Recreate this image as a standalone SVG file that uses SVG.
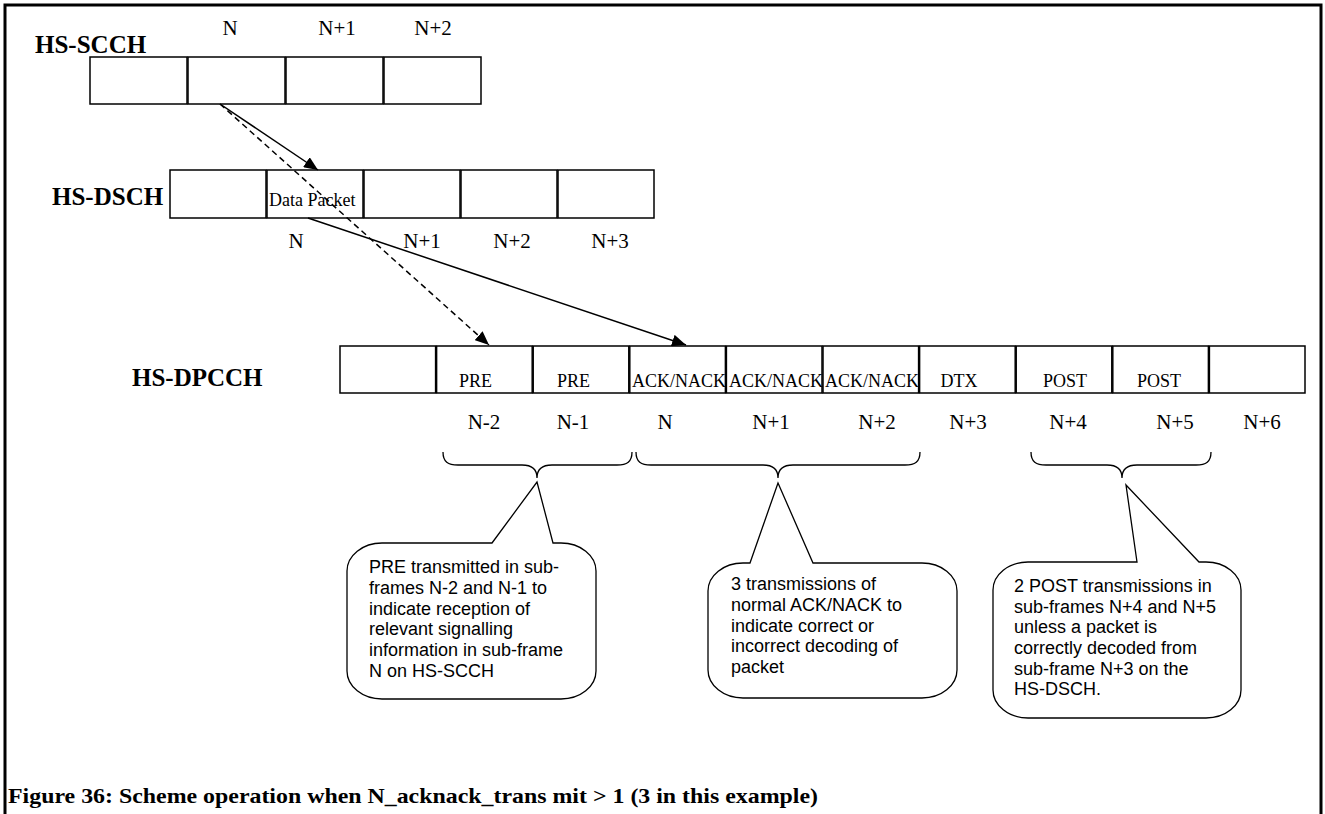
<svg xmlns="http://www.w3.org/2000/svg" width="1325" height="814" viewBox="0 0 1325 814">
<style>
.bx{fill:#fff;stroke:#000;stroke-width:1.5}
.ch{font-family:"Liberation Serif",serif;font-weight:bold;font-size:25px;fill:#000}
.lb{font-family:"Liberation Serif",serif;font-size:21px;fill:#000}
.in{font-family:"Liberation Serif",serif;font-size:18px;fill:#000}
.co{font-family:"Liberation Sans",Arial,sans-serif;font-size:18px;fill:#000}
.cl{fill:#fff;stroke:#000;stroke-width:1.3}
.br{fill:none;stroke:#000;stroke-width:1.3}
.cn{fill:none;stroke:#000;stroke-width:1.5}
</style>
<defs>
<marker id="ah" markerUnits="userSpaceOnUse" markerWidth="16" markerHeight="12" refX="14" refY="6" orient="auto">
<path d="M0,0 L14,6 L0,12 Z" fill="#000"/>
</marker>
</defs>
<rect width="1325" height="814" fill="#fff"/>
<path d="M5,814 V5 H1321 V814" fill="none" stroke="#000" stroke-width="3"/>

<g id="hs-scch">
<text class="ch" x="35" y="53">HS-SCCH</text>
<rect class="bx" x="90" y="57" width="97" height="47"/>
<rect class="bx" x="188" y="57" width="97" height="47"/>
<rect class="bx" x="286" y="57" width="97" height="47"/>
<rect class="bx" x="384" y="57" width="97" height="47"/>
<text class="lb" x="230" y="35" text-anchor="middle">N</text>
<text class="lb" x="337" y="35" text-anchor="middle">N+1</text>
<text class="lb" x="433" y="35" text-anchor="middle">N+2</text>
</g>

<g id="hs-dsch">
<text class="ch" x="52" y="205">HS-DSCH</text>
<rect class="bx" x="170" y="170" width="96" height="48"/>
<rect class="bx" x="267" y="170" width="96" height="48"/>
<rect class="bx" x="364" y="170" width="96" height="48"/>
<rect class="bx" x="461" y="170" width="96" height="48"/>
<rect class="bx" x="558" y="170" width="96" height="48"/>
<text class="in" x="269" y="206">Data Packet</text>
<text class="lb" x="296" y="248" text-anchor="middle">N</text>
<text class="lb" x="422" y="248" text-anchor="middle">N+1</text>
<text class="lb" x="512" y="248" text-anchor="middle">N+2</text>
<text class="lb" x="610" y="248" text-anchor="middle">N+3</text>
</g>

<g id="hs-dpcch">
<text class="ch" x="132" y="386">HS-DPCCH</text>
<rect class="bx" x="340" y="346" width="95.6" height="47"/>
<rect class="bx" x="436.6" y="346" width="95.6" height="47"/>
<rect class="bx" x="533.2" y="346" width="95.6" height="47"/>
<rect class="bx" x="629.8" y="346" width="95.6" height="47"/>
<rect class="bx" x="726.4" y="346" width="95.6" height="47"/>
<rect class="bx" x="823" y="346" width="95.6" height="47"/>
<rect class="bx" x="919.6" y="346" width="95.6" height="47"/>
<rect class="bx" x="1016.2" y="346" width="95.6" height="47"/>
<rect class="bx" x="1112.8" y="346" width="95.6" height="47"/>
<rect class="bx" x="1209.4" y="346" width="95.6" height="47"/>
<text class="in" x="459" y="387">PRE</text>
<text class="in" x="557" y="387">PRE</text>
<text class="in" x="632" y="387">ACK/NACK</text>
<text class="in" x="729" y="387">ACK/NACK</text>
<text class="in" x="825" y="387">ACK/NACK</text>
<text class="in" x="959" y="387" text-anchor="middle">DTX</text>
<text class="in" x="1065" y="387" text-anchor="middle">POST</text>
<text class="in" x="1159" y="387" text-anchor="middle">POST</text>
<text class="lb" x="484" y="429" text-anchor="middle">N-2</text>
<text class="lb" x="573" y="429" text-anchor="middle">N-1</text>
<text class="lb" x="665" y="429" text-anchor="middle">N</text>
<text class="lb" x="771" y="429" text-anchor="middle">N+1</text>
<text class="lb" x="877" y="429" text-anchor="middle">N+2</text>
<text class="lb" x="968" y="429" text-anchor="middle">N+3</text>
<text class="lb" x="1068" y="429" text-anchor="middle">N+4</text>
<text class="lb" x="1175" y="429" text-anchor="middle">N+5</text>
<text class="lb" x="1262" y="429" text-anchor="middle">N+6</text>
</g>

<g id="connectors">
<line class="cn" x1="220" y1="104" x2="318" y2="170" marker-end="url(#ah)"/>
<line class="cn" x1="220" y1="104" x2="489" y2="345" stroke-dasharray="6,4" marker-end="url(#ah)"/>
<line class="cn" x1="308" y1="218" x2="686" y2="345" marker-end="url(#ah)"/>
</g>

<g id="brace-pre">
<path class="br" d="M443,452 C443,462 448,465 458,465 L522,465 C532,465 537,470 537,478 C537,470 542,465 552,465 L617,465 C627,465 632,462 632,452"/>
</g>
<g id="brace-ack">
<path class="br" d="M636,452 C636,462 641,465 651,465 L763,465 C773,465 778,470 778,478 C778,470 783,465 793,465 L905,465 C915,465 920,462 920,452"/>
</g>
<g id="brace-post">
<path class="br" d="M1031,452 C1031,462 1036,465 1046,465 L1107,465 C1117,465 1122,470 1122,478 C1122,470 1127,465 1137,465 L1196,465 C1206,465 1211,462 1211,452"/>
</g>

<g id="callout-pre">
<path class="cl" d="M492,543 L537,482 L553,543 L561,543 A35,28 0 0 1 596,571 L596,671 A35,28 0 0 1 561,699 L382,699 A35,28 0 0 1 347,671 L347,571 A35,28 0 0 1 382,543 Z"/>
<text class="co" x="369" y="573">PRE transmitted in sub-</text>
<text class="co" x="369" y="594">frames N-2 and N-1 to</text>
<text class="co" x="369" y="615">indicate reception of</text>
<text class="co" x="369" y="635">relevant signalling</text>
<text class="co" x="369" y="656">information in sub-frame</text>
<text class="co" x="369" y="677">N on HS-SCCH</text>
</g>

<g id="callout-ack">
<path class="cl" d="M750,563 L778,483 L813,563 L922,563 A35,28 0 0 1 957,591 L957,670 A35,28 0 0 1 922,698 L743,698 A35,28 0 0 1 708,670 L708,591 A35,28 0 0 1 743,563 Z"/>
<text class="co" x="731" y="590">3 transmissions of</text>
<text class="co" x="731" y="611">normal ACK/NACK to</text>
<text class="co" x="731" y="632">indicate correct or</text>
<text class="co" x="731" y="652">incorrect decoding of</text>
<text class="co" x="731" y="673">packet</text>
</g>

<g id="callout-post">
<path class="cl" d="M1137,562 L1126,485 L1199,562 L1206,562 A35,28 0 0 1 1241,590 L1241,690 A35,28 0 0 1 1206,718 L1028,718 A35,28 0 0 1 993,690 L993,590 A35,28 0 0 1 1028,562 Z"/>
<text class="co" x="1014" y="592">2 POST transmissions in</text>
<text class="co" x="1014" y="613">sub-frames N+4 and N+5</text>
<text class="co" x="1014" y="633">unless a packet is</text>
<text class="co" x="1014" y="654">correctly decoded from</text>
<text class="co" x="1014" y="675">sub-frame N+3 on the</text>
<text class="co" x="1014" y="695">HS-DSCH.</text>
</g>

<text x="8" y="803" font-family="'Liberation Serif',serif" font-weight="bold" font-size="21" textLength="810" lengthAdjust="spacingAndGlyphs">Figure 36:  Scheme operation when N_acknack_trans mit &gt; 1 (3 in this example)</text>
</svg>
